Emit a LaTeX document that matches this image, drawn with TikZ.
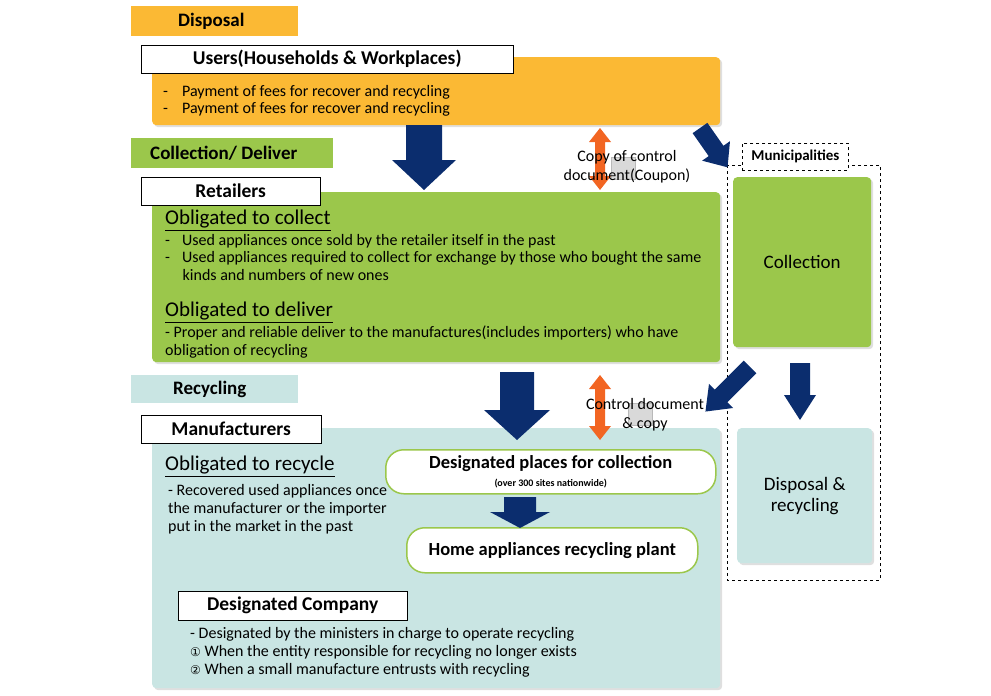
\documentclass[tikz,border=0pt]{standalone}
\usepackage{fontspec}
\setmainfont{Carlito}
\newfontfamily\djv{DejaVu Sans}
\usetikzlibrary{shadows}
\definecolor{org}{HTML}{FBB934}
\definecolor{grn}{HTML}{9BC74B}
\definecolor{lbl}{HTML}{C9E5E3}
\definecolor{navy}{HTML}{0B2D6E}
\definecolor{redo}{HTML}{F26522}
% x, y, rotation, length, shaft half width, head half width, head length
\newcommand\myarrow[7]{\begin{scope}[shift={(#1,#2)},rotate=#3]
 \fill[navy] (-#5,0)--(#5,0)--(#5,#4-#7)--(#6,#4-#7)--(0,#4)--(-#6,#4-#7)--(-#5,#4-#7)--cycle;\end{scope}}
% x, top, bottom
\newcommand\mydbl[3]{\fill[redo] (#1,#2)--(#1+11,#2+14)--(#1+5,#2+14)--(#1+5,#3-14)--(#1+11,#3-14)--(#1,#3)--(#1-11,#3-14)--(#1-5,#3-14)--(#1-5,#2+14)--(#1-11,#2+14)--cycle;}
\begin{document}
\begin{tikzpicture}[x=1pt,y=-1pt,
  lab/.style={draw=none,minimum height=30pt,anchor=north west,inner sep=0},
  labt/.style={font=\bfseries\fontsize{19}{22}\selectfont,anchor=west,inner sep=0},
  wbox/.style={draw=black,fill=white,minimum height=28pt,font=\bfseries\fontsize{19.5}{22}\selectfont,anchor=north west,inner sep=0},
  big/.style={rounded corners=4pt,drop shadow={opacity=0.25,shadow xshift=2pt,shadow yshift=-2pt},anchor=north west,inner sep=0},
  txt/.style={font=\fontsize{16}{17.5}\selectfont,anchor=north west,align=left,inner sep=0},
  head/.style={font=\fontsize{21}{24}\selectfont,anchor=north west,inner sep=0},
  rbox/.style={rounded corners=18pt,draw=grn,line width=1.5pt,fill=white,anchor=north west,inner sep=0,font=\bfseries\fontsize{18.5}{20}\selectfont},
  doc/.style={fill=gray!30,draw=gray!55,minimum width=24pt,minimum height=22pt,inner sep=0}]
\useasboundingbox (0,0) rectangle (991,696);
% Disposal
\node[lab,fill=org,minimum width=167pt] (ldisp) at (131,6) {};
\node[labt] (ldispt) at (178,21) {Disposal};
\node[big,fill=org,minimum width=568pt,minimum height=68pt] (users) at (152,57) {};
\node[wbox,minimum width=372pt] (usersl) at (141,45) {Users(Households \& Workplaces)};
\node[txt] (ut) at (163,85) {-\hspace{14pt}Payment of fees for recover and recycling\\-\hspace{14pt}Payment of fees for recover and recycling};
% Collection
\node[lab,fill=grn,minimum width=202pt] (lcol) at (131,138) {};
\node[labt] (lcolt) at (150,153) {Collection/ Deliver};
\node[big,fill=grn,minimum width=568pt,minimum height=170pt] (ret) at (152,192) {};
\node[wbox,minimum width=179pt] (retl) at (141,177) {Retailers};
\node[head] (oc) at (165,210) {\underline{Obligated to collect}};
\node[txt] (ct) at (165,234) {-\hspace{12pt}Used appliances once sold by the retailer itself in the past\\-\hspace{12pt}Used appliances required to collect for exchange by those who bought the same\\\hspace{17.5pt}kinds and numbers of new ones};
\node[head] (od) at (165,302) {\underline{Obligated to deliver}};
\node[txt] (dt) at (165,326) {- Proper and reliable deliver to the manufactures(includes importers) who have\\obligation of recycling};
% Recycling
\node[lab,fill=lbl,minimum width=167pt,minimum height=28pt] (lrec) at (131,375) {};
\node[labt] (lrect) at (173,389) {Recycling};
\node[big,fill=lbl,minimum width=568pt,minimum height=260pt] (man) at (152,428) {};
\node[wbox,minimum width=180pt] (manl) at (141,415) {Manufacturers};
\node[head] (orr) at (165,456) {\underline{Obligated to recycle}};
\node[txt,font=\fontsize{16}{18}\selectfont] (rt) at (168,484) {- Recovered used appliances once\\the manufacturer or the importer\\put in the market in the past};
\node[rbox,minimum width=330pt,minimum height=44pt,align=center] (dp) at (385,449) {Designated places for collection\\[-2pt]{\fontsize{10}{11}\selectfont (over 300 sites nationwide)}};
\node[rbox,minimum width=291pt,minimum height=45pt] (hp) at (406,527) {Home appliances recycling plant};
\node[wbox,minimum width=229pt,minimum height=29pt] (dc) at (178,591) {Designated Company};
\node[txt,font=\fontsize{16}{18}\selectfont] (dct) at (190,627) {- Designated by the ministers in charge to operate recycling\\{\djv\fontsize{12}{14}\selectfont ①} When the entity responsible for recycling no longer exists\\{\djv\fontsize{12}{14}\selectfont ②} When a small manufacture entrusts with recycling};
% Municipalities
\draw[dashed,line width=0.8pt] (727,165) rectangle (880,580);
\node[draw,dashed,fill=white,line width=0.8pt,minimum width=106pt,minimum height=27pt,anchor=north west,inner sep=0,font=\bfseries\fontsize{15}{17}\selectfont] (mun) at (742,143) {Municipalities};
\node[big,fill=grn,minimum width=138pt,minimum height=170pt,font=\fontsize{19}{21}\selectfont] (col) at (733,177) {Collection};
\node[big,fill=lbl,minimum width=135pt,minimum height=135pt,align=center,font=\fontsize{19}{21}\selectfont] (dr) at (737,428) {Disposal \&\\recycling};
% block arrows
\myarrow{424}{125}{0}{65}{18}{32}{30}
\myarrow{517}{372}{0}{68}{17}{33}{30}
\myarrow{520}{497}{0}{31}{16}{30}{16}
\myarrow{800}{363}{0}{57}{10}{16}{25}
\myarrow{700}{128}{35}{48}{9}{17}{20}
\myarrow{750}{367}{-45}{63}{9}{17}{22}
\mydbl{600}{128}{190}
\mydbl{600}{375}{440}
\node[doc] (d1) at (623,168) {};
\node[doc] (d2) at (640,414) {};
\node[font=\fontsize{16}{19}\selectfont,align=center,inner sep=0] (c1) at (627,167) {Copy of control\\document(Coupon)};
\node[font=\fontsize{16}{19}\selectfont,align=center,inner sep=0] (c2) at (645,415) {Control document\\\& copy};
\end{tikzpicture}
\end{document}
